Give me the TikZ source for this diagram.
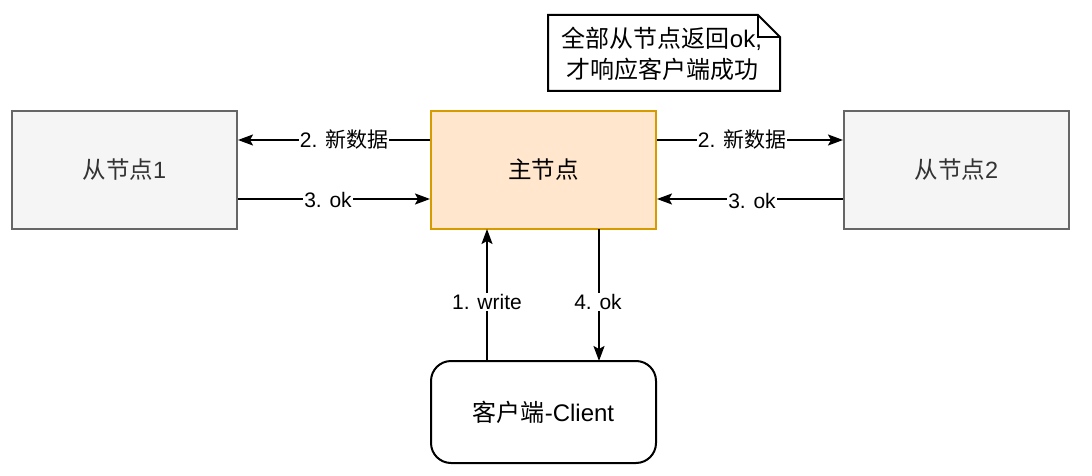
\documentclass[tikz,border=0pt]{standalone}
\usepackage{fontspec}
\setmainfont{Liberation Sans}
\newfontfamily\cjk{Noto Sans CJK SC}
\usetikzlibrary{arrows.meta}
\definecolor{slavefill}{HTML}{F5F5F5}
\definecolor{slavedraw}{HTML}{666666}
\definecolor{slavetext}{HTML}{333333}
\definecolor{masterfill}{HTML}{FFE6CC}
\definecolor{masterdraw}{HTML}{D79B00}
\tikzset{
  slavebox/.style={draw=slavedraw, fill=slavefill, line width=2pt, minimum width=225pt, minimum height=118pt, text=slavetext, inner sep=0pt, font=\fontsize{23.5}{28}\selectfont},
  masterbox/.style={draw=masterdraw, fill=masterfill, line width=2pt, minimum width=225pt, minimum height=118pt, inner sep=0pt, font=\fontsize{23.5}{28}\selectfont},
  clientbox/.style={draw=black, fill=white, line width=2pt, rounded corners=20pt, minimum width=225pt, minimum height=102pt, inner sep=0pt, font=\fontsize{24}{28}\selectfont},
  conn/.style={line width=2pt, -{Stealth[length=15pt,width=11pt,inset=3pt]}},
  lbl/.style={fill=white, inner sep=1pt, font=\fontsize{21}{25}\selectfont},
}
\begin{document}
\begin{tikzpicture}[x=1pt,y=-1pt]
\useasboundingbox (0,0) rectangle (1092,476);
\node[slavebox] (s1) at (124.5,170) {{\cjk 从节点}1};
\node[masterbox] (m) at (543.5,170) {{\cjk 主节点}};
\node[slavebox] (s2) at (956.5,170) {{\cjk 从节点}2};
\node[clientbox] (c) at (543.5,412) {{\cjk 客户端}-Client};
% note
\draw[line width=2pt, fill=white] (548,15) coordinate (n1) -- (758,15) -- (780,37) -- (780,91) -- (548,91) -- cycle;
\draw[line width=2pt] (758,15) -- (758,37) -- (780,37);
\node[align=center, font=\fontsize{24}{31}\selectfont] (note) at (662,54) {{\cjk 全部从节点返回}ok,\\{\cjk 才响应客户端成功}};
% coordinates
\coordinate (m1l) at (m.west |- 0,140);
\coordinate (s1r) at (s1.east |- 0,140);
\coordinate (m2l) at (m.west |- 0,199);
\coordinate (s1r2) at (s1.east |- 0,199);
\coordinate (m1r) at (m.east |- 0,140);
\coordinate (s2l) at (s2.west |- 0,140);
\coordinate (m2r) at (m.east |- 0,199);
\coordinate (s2l2) at (s2.west |- 0,199);
\coordinate (mb1) at (487,229);
\coordinate (ct1) at (487,361);
\coordinate (mb2) at (599,229);
\coordinate (ct2) at (599,361);
\draw[conn] (m1l) -- (s1r);
\draw[conn] (s1r2) -- (m2l);
\draw[conn] (m1r) -- (s2l);
\draw[conn] (s2l2) -- (m2r);
\draw[conn] (ct1) -- (mb1);
\draw[conn] (mb2) -- (ct2);
\node[lbl] (l1) at (344,140) {2. {\cjk 新数据}};
\node[lbl] (l2) at (328,200) {3. ok};
\node[lbl] (l3) at (742,140) {2. {\cjk 新数据}};
\node[lbl] (l4) at (752,201) {3. ok};
\node[lbl] (l5) at (487,302) {1. write};
\node[lbl] (l6) at (598,302) {4. ok};
\end{tikzpicture}
\end{document}
